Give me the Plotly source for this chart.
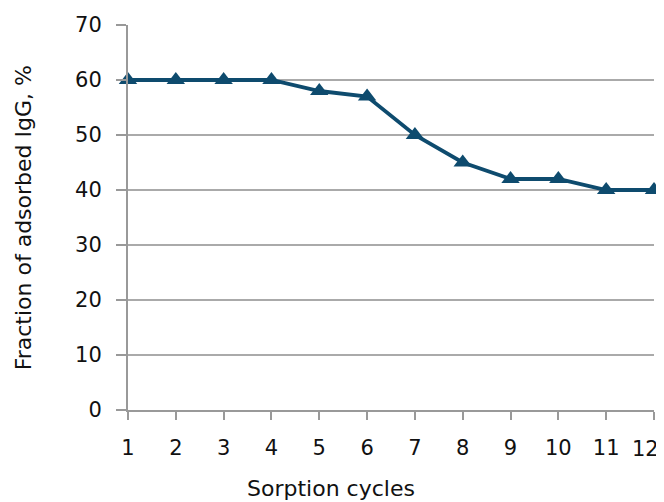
import plotly.graph_objects as go

cycles = [1, 2, 3, 4, 5, 6, 7, 8, 9, 10, 11, 12]
fraction = [60, 60, 60, 60, 58, 57, 50, 45, 42, 42, 40, 40]
y_ticks = [0, 10, 20, 30, 40, 50, 60, 70]
x_labels = [str(c) for c in cycles]

fig = go.Figure()
fig.add_trace(go.Scatter(
    x=cycles, y=fraction, mode="lines+markers",
    line=dict(color="#0e4b6e", width=3.8),
    marker=dict(symbol="triangle-up", size=16, color="#0e4b6e"),
    cliponaxis=False, showlegend=False,
))

fam = "DejaVu Sans, sans-serif"
tick_font = dict(family=fam, size=21, color="#111111")
title_font = dict(family=fam, size=22, color="#111111")

# last tick label is drawn as an annotation so it stays inside the page
shown_ticktext = x_labels[:-1] + [""]

fig.update_layout(
    width=664, height=494,
    margin=dict(l=120, r=18, t=17, b=92),
    plot_bgcolor="white", paper_bgcolor="white",
    font=tick_font,
    xaxis=dict(
        range=[1, 12], tickvals=cycles, ticktext=shown_ticktext,
        ticks="outside", ticklen=8, tickwidth=2,
        tickcolor="#999999", showgrid=False, showline=True, linecolor="#999999",
        linewidth=2, zeroline=False, automargin=False, ticklabelstandoff=10,
        tickfont=tick_font,
    ),
    yaxis=dict(
        range=[0, 70], tickvals=y_ticks, ticks="outside", ticklen=10, tickwidth=2,
        tickcolor="#999999", showgrid=True, gridcolor="#aaaaaa", gridwidth=2,
        showline=True, linecolor="#999999", linewidth=2, zeroline=False,
        automargin=False, ticklabelstandoff=10, tickfont=tick_font,
    ),
    annotations=[
        dict(text=x_labels[-1], xref="x", yref="paper",
             x=cycles[-1], y=0, xanchor="right", yanchor="middle",
             xshift=7, yshift=-39, showarrow=False, font=tick_font),
        dict(text="Sorption cycles", xref="paper", yref="paper",
             x=0.386, y=-0.205, xanchor="center", yanchor="middle",
             showarrow=False, font=title_font),
        dict(text="Fraction of adsorbed IgG, %", xref="paper", yref="paper",
             x=-0.198, y=0.5, xanchor="center", yanchor="middle",
             textangle=-90, showarrow=False, font=title_font),
    ],
)
fig.write_html("out.html")
